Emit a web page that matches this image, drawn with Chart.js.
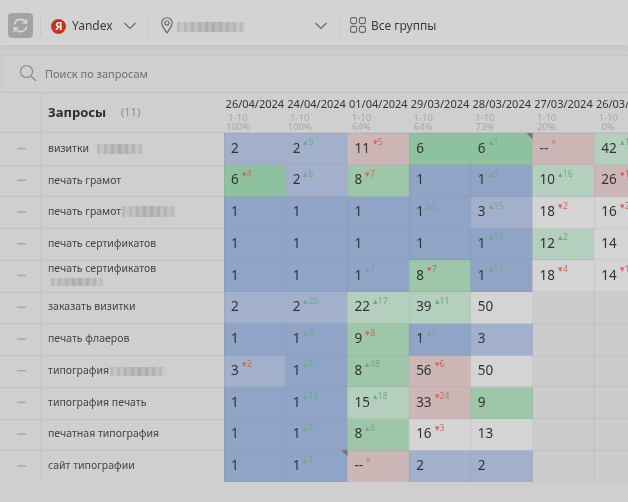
<!DOCTYPE html>
<html lang="ru">
<head>
<meta charset="utf-8">
<title>Запросы</title>
<script src="https://cdn.jsdelivr.net/npm/chart.js@4"></script>
<style>
  html, body { margin: 0; width: 628px; height: 502px; overflow: hidden; background: #cfcfcf; }
  #page { position: relative; width: 628px; height: 502px; overflow: hidden; filter: blur(0.55px);
          font-family: "Noto Sans", sans-serif; color: #3a3a3a; }
  #page div, #page span, #page svg { position: absolute; }
  #wrap { left: 0; top: 0; width: 656px; height: 482px; }
  .toolbar { left: 0; top: 0; width: 628px; height: 45px; background: #d3d3d3; box-shadow: 0 3px 6px #c4c4c4; }
  .searchbar { left: 1px; top: 55px; width: 627px; height: 37px; border-top: 1px solid #c6c6c6; border-left: 1px solid #c6c6c6; }
  .sep { top: 16px; width: 1px; height: 21px; background: #c6c6c6; }
  .mask { background: repeating-linear-gradient(90deg, rgba(150,150,150,.25) 0 3px, rgba(205,205,205,.25) 3px 7px),
                      linear-gradient(90deg, #c6c6c6, #b3b3b3 50%, #bcbcbc 80%, #cbcbcb); }
  .tb { font-size: 12px; line-height: 16px; white-space: nowrap; }
</style>
</head>
<body>
<div id="page">
  <div id="wrap"><canvas id="grid"></canvas></div>

  <div class="toolbar"></div>
  <div style="left:8px;top:13px;width:25px;height:25px;border-radius:4px;background:#a3a3a3"></div>
  <svg style="left:12px;top:17px" width="17" height="17" viewBox="0 0 17 17" fill="none" stroke="#d8d8d8" stroke-width="1.6">
    <path d="M2.5 7.5a6 6 0 0 1 10.5-3l1.5 1.5M14.5 2v4h-4M14.500 9.500a6 6 0 0 1-10.500 3l-1.500-1.500M2.500 15v-4h4"/>
  </svg>
  <div class="sep" style="left:40px"></div>
  <div style="left:51px;top:19px;width:15px;height:15px;border-radius:50%;background:#c9321f"></div>
  <span class="tb" style="left:55px;top:18px;color:#eee;font-weight:700;font-size:11px">Я</span>
  <span class="tb" style="left:72px;top:18px">Yandex</span>
  <svg style="left:124px;top:22px" width="12" height="8" fill="none" stroke="#666" stroke-width="1.1"><path d="M.5 1l5.5 5.5L11.5 1"/></svg>
  <div class="sep" style="left:147px"></div>
  <svg style="left:161px;top:17px" width="12" height="17" fill="none" stroke="#666" stroke-width="1.1"><path d="M6 16C3 11 .7 9 .7 6a5.3 5.3 0 0 1 10.6 0c0 3-2.300 5-5.300 10z"/><circle cx="6" cy="6" r="2"/></svg>
  <div class="mask" style="left:177px;top:22px;width:68px;height:10px"></div>
  <svg style="left:315px;top:22px" width="12" height="8" fill="none" stroke="#666" stroke-width="1.1"><path d="M.5 1l5.5 5.500L11.500 1"/></svg>
  <div class="sep" style="left:339px"></div>
  <svg style="left:350px;top:17px" width="16" height="16" fill="none" stroke="#666" stroke-width="1.1">
    <rect x=".6" y=".6" width="6" height="6" rx="1.6"/><rect x="9.400" y=".6" width="6" height="6" rx="1.6"/>
    <rect x=".6" y="9.400" width="6" height="6" rx="1.6"/><rect x="9.400" y="9.400" width="6" height="6" rx="1.6"/>
  </svg>
  <span class="tb" style="left:371px;top:18px">Все группы</span>

  <div class="searchbar"></div>
  <svg style="left:19px;top:64px" width="18" height="18" fill="none" stroke="#8a8a8a" stroke-width="1.2"><circle cx="7.500" cy="7.500" r="6"/><path d="M12 12l5 5"/></svg>
  <span class="tb" style="left:45px;top:66px;font-size:11px;color:#707070">Поиск по запросам</span>

  <div class="mask" style="left:97px;top:144px;width:46px;height:10px"></div>
  <div class="mask" style="left:122px;top:206px;width:55px;height:11px"></div>
  <div class="mask" style="left:51px;top:278px;width:52px;height:8px"></div>
  <div class="mask" style="left:110px;top:367px;width:56px;height:9px"></div>
</div>

<script>
// table data
const dates = ['26/04/2024', '24/04/2024', '01/04/2024', '29/03/2024', '28/03/2024', '27/03/2024', '26/03/2024'];
const topRange = ['1-10', '1-10', '1-10', '1-10', '1-10', '1-10', '1-10'];
const topShare = ['100%', '100%', '64%', '64%', '73%', '20%', '0%'];
const queries = [
  'визитки',
  'печать грамот',
  'печать грамот',
  'печать сертификатов',
  ['печать сертификатов', ''],
  'заказать визитки',
  'печать флаеров',
  'типография',
  'типография печать',
  'печатная типография',
  'сайт типографии'
];
// '--' is a query that dropped out, null is no check that day
const ranks = [
  [2, 2, 11, 6, 6, '--', 42],
  [6, 2, 8, 1, 1, 10, 26],
  [1, 1, 1, 1, 3, 18, 16],
  [1, 1, 1, 1, 1, 12, 14],
  [1, 1, 1, 8, 1, 18, 14],
  [2, 2, 22, 39, 50, null, null],
  [1, 1, 9, 1, 3, null, null],
  [3, 1, 8, 56, 50, null, null],
  [1, 1, 15, 33, 9, null, null],
  [1, 1, 8, 16, 13, null, null],
  [1, 1, '--', 2, 2, null, null]
];
const changes = [
  [0, 9, -5, 0, 1, 'x', 1],
  [-4, 6, -7, 0, 9, 16, -14],
  [0, 0, 0, 2, 15, -2, -2],
  [0, 0, 0, 0, 13, 2, 0],
  [0, 0, 7, -7, 17, -4, -1],
  [0, 20, 17, 11, 0, 0, 0],
  [0, 8, -8, 2, 0, 0, 0],
  [-2, 7, 48, -6, 0, 0, 0],
  [0, 14, 18, -24, 0, 0, 0],
  [0, 7, 8, -3, 0, 0, 0],
  [0, 1, 'x', 0, 0, 0, 0]
];
const flaggedCells = [[0, 4], [10, 1]];

const FONT = '"Noto Sans", sans-serif';
const RED = '#c96a60';
const GREEN = '#6dab88';
const GRID = 'rgba(105,110,125,0.1)';

function cellColor(rank, change) {
  if (rank === '--') return '#cdb6b6';
  if (rank === 1) return '#8fa4c6';
  if (rank <= 3) return '#a3b0cb';
  if (rank <= 7) return '#8ec29f';
  if (rank <= 9) return '#9ec7a9';
  if (change <= -5) return '#cdb6b6';
  if (change >= 1) return '#b5cfbe';
  return '#d4d4d4';
}

const cellText = {
  id: 'cellText',
  beforeDatasetsDraw(chart) {
    // the left column and the header rules live outside the plot area
    const { ctx, chartArea, scales } = chart;
    ctx.save();
    ctx.fillStyle = '#cccccc';
    ctx.fillRect(chartArea.left, chartArea.top, chartArea.width, chartArea.height);

    ctx.strokeStyle = '#c2c2c2';
    ctx.lineWidth = 1;
    ctx.beginPath();
    ctx.moveTo(0, 92.5); ctx.lineTo(628, 92.5);
    ctx.moveTo(0, chartArea.top - 0.5); ctx.lineTo(628, chartArea.top - 0.5);
    ctx.moveTo(41.5, 92); ctx.lineTo(41.5, chartArea.bottom);
    queries.forEach((q, i) => {
      const y = Math.round(scales.cells.getPixelForValue(i + 1)) + 0.5;
      ctx.moveTo(0, y); ctx.lineTo(chartArea.left, y);
    });
    ctx.stroke();

    ctx.fillStyle = '#a9a9a9';
    queries.forEach((q, i) => ctx.fillRect(17, scales.cells.getPixelForValue(i + 0.5) - 1, 9, 1.5));

    ctx.textBaseline = 'middle';
    ctx.fillStyle = '#2e2e2e';
    ctx.font = '700 13px ' + FONT;
    ctx.fillText('Запросы', 48, 113);
    ctx.fillStyle = '#8a8a8a';
    ctx.font = '11px ' + FONT;
    ctx.fillText('(' + queries.length + ')', 121, 113);

    ctx.textAlign = 'center';
    ctx.fillStyle = '#a8a8a8';
    ctx.font = '9.5px ' + FONT;
    dates.forEach((d, c) => {
      const x = scales.x.getPixelForValue(c) - scales.x.width / dates.length / 2 + 14;
      ctx.fillText(topRange[c], x, 118);
      ctx.fillText(topShare[c], x, 127);
    });
    ctx.restore();
  },
  afterDatasetsDraw(chart) {
    const { ctx } = chart;
    ctx.save();
    ctx.textBaseline = 'middle';
    chart.data.datasets.forEach((ds, r) => {
      chart.getDatasetMeta(r).data.forEach((bar, c) => {
        const rank = ranks[r][c];
        if (rank === null) return;
        const left = bar.x - bar.width / 2 + 7;
        const mid = (bar.y + bar.base) / 2;
        ctx.font = '13.5px ' + FONT;
        ctx.fillStyle = '#333';
        ctx.fillText(rank, left, mid);
        const change = changes[r][c];
        if (change) {
          const w = ctx.measureText(rank).width;
          ctx.font = '8.5px ' + FONT;
          ctx.fillStyle = change === 'x' || change < 0 ? RED : GREEN;
          const sign = change === 'x' ? '' : change < 0 ? '▾' : '▴';
          ctx.fillText(sign + (change === 'x' ? '×' : Math.abs(change)), left + w + 3, mid - 6);
        }
      });
    });
    ctx.fillStyle = '#727272';
    flaggedCells.forEach(([r, c]) => {
      const bar = chart.getDatasetMeta(r).data[c];
      const right = bar.x + bar.width / 2;
      const top = Math.min(bar.y, bar.base);
      ctx.beginPath();
      ctx.moveTo(right - 6, top); ctx.lineTo(right, top); ctx.lineTo(right, top + 6);
      ctx.fill();
    });
    ctx.restore();
  }
};

Chart.defaults.animation = false;

new Chart(document.getElementById('grid'), {
  type: 'bar',
  data: {
    labels: dates,
    datasets: queries.map((q, r) => ({
      label: Array.isArray(q) ? q[0] : q,
      yAxisID: 'cells',
      data: ranks[r].map(rank => rank === null ? null : [r, r + 1]),
      backgroundColor: ctx => cellColor(ranks[r][ctx.dataIndex], changes[r][ctx.dataIndex]),
      borderWidth: 0,
      barPercentage: 1,
      categoryPercentage: 1
    }))
  },
  options: {
    responsive: true,
    maintainAspectRatio: false,
    layout: { autoPadding: false, padding: { top: 93, left: 48, right: 0, bottom: 0 } },
    plugins: { legend: { display: false }, tooltip: { enabled: false } },
    scales: {
      x: {
        position: 'top',
        stacked: true,
        afterFit: scale => { scale.height = 40; scale.paddingLeft = 0; scale.paddingRight = 0; },
        grid: { color: GRID, drawTicks: false, offset: true, z: 1 },
        border: { display: false },
        ticks: { color: '#333', font: { family: FONT, size: 11 }, padding: 22, maxRotation: 0, autoSkip: false }
      },
      y: {
        type: 'category',
        labels: queries,
        offset: true,
        position: 'left',
        afterFit: scale => { scale.width = 176; scale.paddingTop = 0; scale.paddingBottom = 0; },
        grid: { color: GRID, drawTicks: false, offset: true, z: 1 },
        border: { display: false },
        ticks: { color: '#444', font: { family: FONT, size: 10.5 }, crossAlign: 'far', padding: 4, autoSkip: false }
      },
      cells: { type: 'linear', display: false, min: 0, max: queries.length, reverse: true, stacked: false }
    }
  },
  plugins: [cellText]
});
</script>
</body>
</html>
